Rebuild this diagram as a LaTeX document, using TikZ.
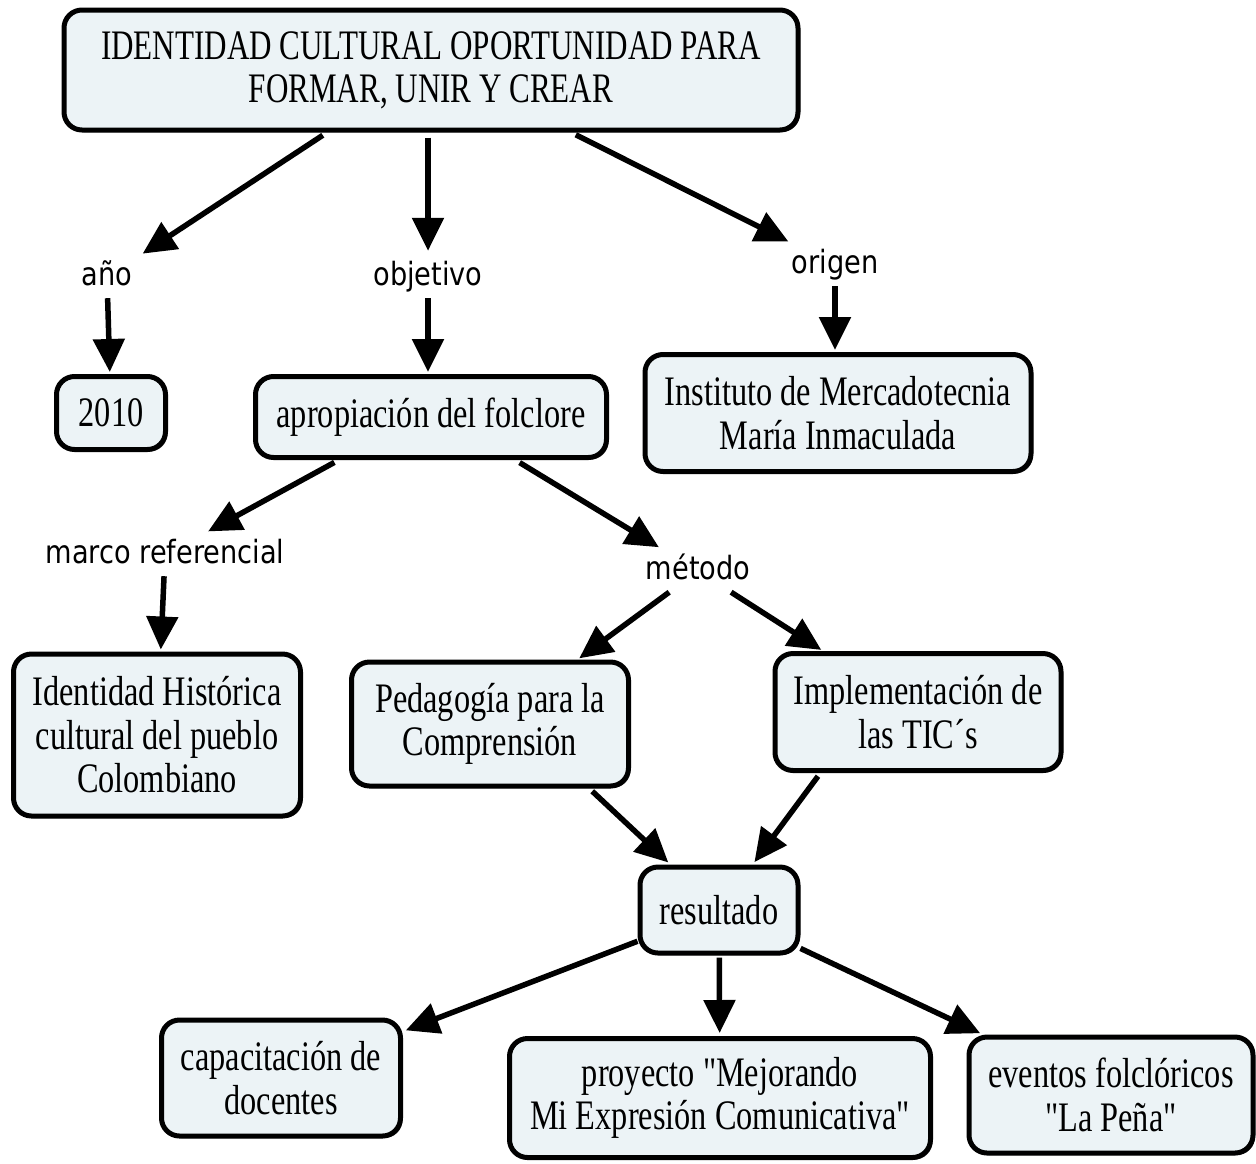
\documentclass[tikz,border=0pt]{standalone}
\usepackage{fontspec}
\newfontfamily\boxfont{Liberation Serif}[FakeStretch=0.77]
\newfontfamily\titlefont{Liberation Serif}[FakeStretch=0.74]
\newfontfamily\labelfont{DejaVu Sans}[FakeStretch=0.85]
\usetikzlibrary{arrows.meta,shadows}
\definecolor{boxfill}{RGB}{236,243,246}
\begin{document}
\begin{tikzpicture}[x=1pt,y=-1pt,
  cbox/.style={draw=black, line width=5pt, rounded corners=18pt, fill=boxfill,
    align=center, inner sep=0pt, font=\boxfont\fontsize{42}{43.5}\selectfont,
    drop shadow={shadow xshift=2pt, shadow yshift=-2pt, fill=black!75, opacity=1}},
  lab/.style={font=\labelfont\fontsize{32}{36}\selectfont, inner sep=6pt,
    text height=23pt, text depth=7pt},
  arr/.style={line width=5.5pt, -{Triangle[length=33pt,width=31pt]}},
  fromlab/.style={arr, shorten >=2pt},
  tolab/.style={arr, shorten <=5pt, shorten >=5pt}
]
\useasboundingbox (0,0) rectangle (1256,1163);
\fill[white] (0,0) rectangle (1256,1163);

% boxes
\node[cbox, font=\titlefont\fontsize{42}{43}\selectfont, minimum width=734pt, minimum height=120pt] (title) at (431,70)
  {IDENTIDAD CULTURAL OPORTUNIDAD PARA\\FORMAR, UNIR Y CREAR};
\node[cbox, minimum width=109pt, minimum height=73pt] (y2010) at (111,413) {2010};
\node[cbox, minimum width=351pt, minimum height=81pt] (apro) at (431,417) {apropiación del folclore};
\node[cbox, minimum width=386pt, minimum height=117pt] (inst) at (838,413)
  {Instituto de Mercadotecnia\\María Inmaculada};
\node[cbox, minimum width=287pt, minimum height=162pt] (ident) at (157,735)
  {Identidad Histórica\\cultural del pueblo\\Colombiano};
\node[cbox, minimum width=277pt, minimum height=124pt] (ped) at (490,724)
  {Pedagogía para la\\Comprensión};
\node[cbox, minimum width=286pt, minimum height=117pt] (impl) at (918,712)
  {Implementación de\\las TIC´s};
\node[cbox, minimum width=158pt, minimum height=86pt] (res) at (719,910) {resultado};
\node[cbox, minimum width=239pt, minimum height=116pt] (cap) at (281,1078)
  {capacitación de\\docentes};
\node[cbox, minimum width=421pt, minimum height=119pt] (proy) at (720,1098)
  {proyecto "Mejorando\\Mi Expresión Comunicativa"};
\node[cbox, minimum width=284pt, minimum height=116pt] (even) at (1111,1095)
  {eventos folclóricos\\"La Peña"};

% labels
\node[lab] (ano) at (107,277) {año};
\node[lab] (obj) at (428,277) {objetivo};
\node[lab] (orig) at (835,265) {origen};
\node[lab] (marco) at (165,555) {marco referencial};
\node[lab] (metodo) at (698,571) {método};

% connectors
\draw[tolab] (title.211) -- (ano);
\draw[tolab] (title.south -| obj) -- (obj);
\draw[tolab] (title.-24) -- (orig);
\draw[fromlab] (ano) -- (y2010);
\draw[fromlab] (obj) -- (obj |- apro.north);
\draw[fromlab] (orig) -- (orig |- inst.north);
\draw[tolab] (apro.205) -- (marco);
\draw[tolab] (apro.-27) -- (metodo);
\draw[fromlab] (marco) -- (ident);
\draw[fromlab] (metodo) -- (ped);
\draw[fromlab] (metodo) -- (impl);
\draw[arr, shorten <=4pt, shorten >=3pt] (ped.-33) -- (res);
\draw[arr, shorten <=4pt, shorten >=3pt] (impl.212) -- (res);
\draw[arr, shorten >=3pt] (res) -- (cap);
\draw[arr, shorten <=2pt, shorten >=3pt] (res) -- (proy);
\draw[arr, shorten >=3pt] (res) -- (even);
\end{tikzpicture}
\end{document}
